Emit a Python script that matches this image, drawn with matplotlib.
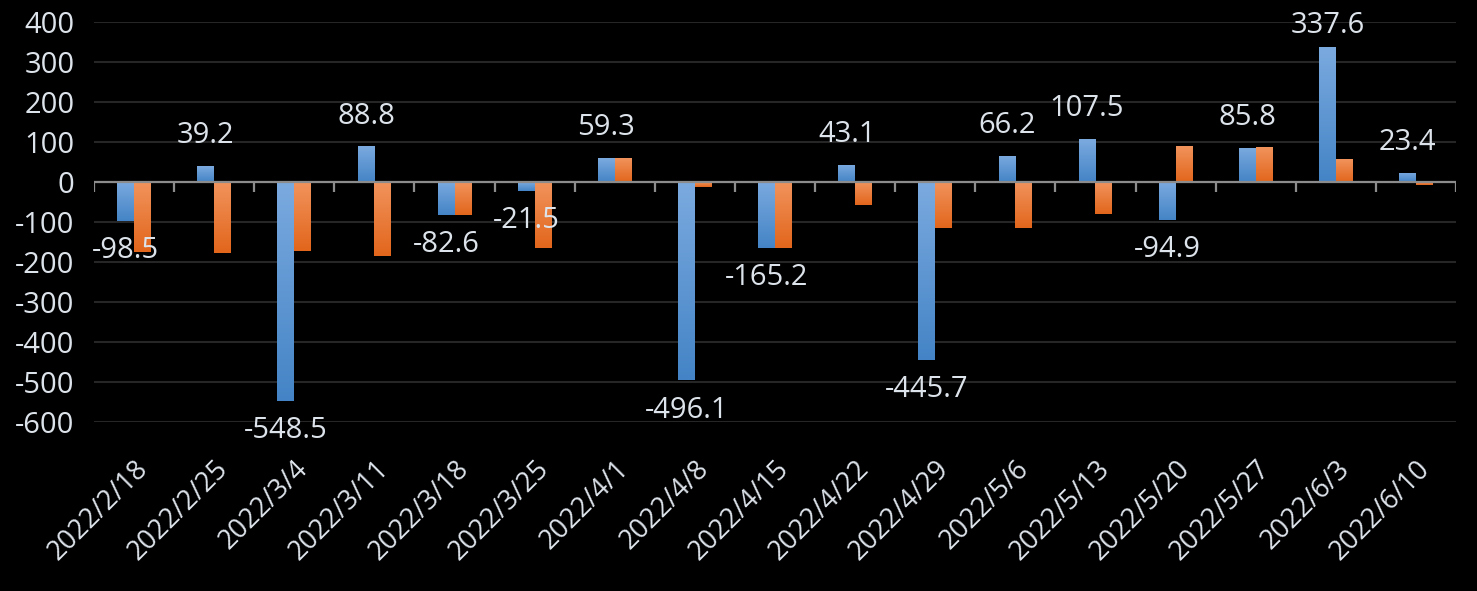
import matplotlib
matplotlib.use("Agg")
import matplotlib.pyplot as plt
import numpy as np
from matplotlib.colors import LinearSegmentedColormap

plt.rcParams['font.family'] = ['Open Sans', 'DejaVu Sans']
plt.rcParams['axes.unicode_minus'] = False

dates = ["2022/2/18", "2022/2/25", "2022/3/4", "2022/3/11", "2022/3/18", "2022/3/25",
         "2022/4/1", "2022/4/8", "2022/4/15", "2022/4/22", "2022/4/29", "2022/5/6",
         "2022/5/13", "2022/5/20", "2022/5/27", "2022/6/3", "2022/6/10"]
blue_vals = [-98.5, 39.2, -548.5, 88.8, -82.6, -21.5, 59.3, -496.1, -165.2, 43.1,
             -445.7, 66.2, 107.5, -94.9, 85.8, 337.6, 23.4]
orange_vals = [-174, -177, -172, -184, -82, -164, 60, -12, -164, -57,
               -114, -114, -79, 90, 87, 57, -7]

bg = "black"
text_col = "#DDE3EA"
blue_cmap = LinearSegmentedColormap.from_list("b", ["#4484C6", "#7BAADF"])
orange_cmap = LinearSegmentedColormap.from_list("o", ["#E2661C", "#F1935C"])

fig = plt.figure(figsize=(14.77, 5.91), dpi=100, facecolor=bg)
ax = fig.add_axes([94/1477, 1-422/591, (1456-94)/1477, 400/591])
ax.set_facecolor(bg)

x = np.arange(len(dates))
w = 0.21
grad = np.linspace(0, 1, 100).reshape(-1, 1)

def gradient_bars(xpos, vals, cmap):
    bars = ax.bar(xpos, vals, width=w, color="none", linewidth=0, zorder=3)
    for b in bars:
        x0 = b.get_x()
        y0 = min(b.get_y(), b.get_y() + b.get_height())
        y1 = max(b.get_y(), b.get_y() + b.get_height())
        im = ax.imshow(grad, extent=[x0, x0 + w, y0, y1], origin="lower",
                       aspect="auto", cmap=cmap, zorder=3)
        im.set_clip_path(b)
    return bars

gradient_bars(x - w/2, blue_vals, blue_cmap)
gradient_bars(x + w/2, orange_vals, orange_cmap)

# data labels for the blue series (kept inside the chart at the top)
for xi, v in zip(x, blue_vals):
    ly = v + 76 if v >= 0 else v - 74
    ly = min(ly, 392)
    ax.text(xi - w/2, ly, f"{v:.1f}", ha="center", va="center",
            fontsize=21, color=text_col, zorder=5, clip_on=False)

ax.set_xlim(-0.5, len(dates) - 0.5)
ax.set_ylim(-600, 400)
ax.set_yticks(np.arange(-600, 401, 100))
ax.yaxis.grid(True, color="#262626", linewidth=1.5)
ax.set_axisbelow(True)

# zero axis line with category tick marks
ax.axhline(0, color="#8C8C8C", linewidth=1.6, zorder=4)
ax.vlines(np.arange(-0.5, len(dates)), -25, 0, color="#8C8C8C", linewidth=1.6, zorder=4)

for s in ax.spines.values():
    s.set_visible(False)

ax.tick_params(axis="y", length=0, pad=14, labelsize=21, labelcolor=text_col)
ax.tick_params(axis="x", length=0, pad=24, labelsize=19.5, labelcolor=text_col)
ax.set_xticks(x)
ax.set_xticklabels(dates, rotation=45, ha="right", va="top", rotation_mode="anchor")

fig.savefig("out.png", dpi=100, facecolor=bg)
